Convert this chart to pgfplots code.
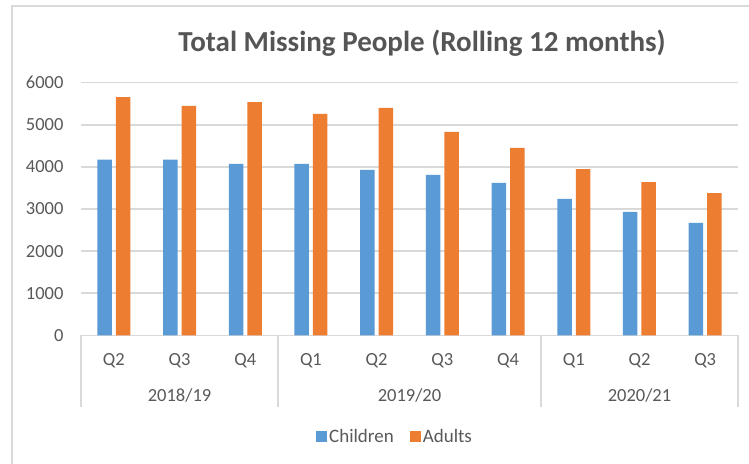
\documentclass[border=0pt]{standalone}
\usepackage{pgfplots}
\pgfplotsset{compat=1.18}
\usepackage{fontspec}
\setmainfont{Carlito}
\definecolor{cblue}{HTML}{5B9BD5}
\definecolor{corange}{HTML}{ED7D31}
\definecolor{gridgray}{HTML}{D9D9D9}
\definecolor{txtgray}{HTML}{595959}
\begin{document}
\begin{tikzpicture}
\useasboundingbox (0,0) rectangle (749bp,464bp);
\fill[white] (0,0) rectangle (749bp,464bp);
\draw[gridgray, line width=1.5bp] (12bp,-2bp) -- (12bp,458bp) -- (751bp,458bp);
\node[font=\fontsize{29bp}{33bp}\selectfont\bfseries, text=txtgray!95!black] at (422bp,421bp) {Total Missing People (Rolling 12 months)};
\begin{axis}[
  at={(81bp,128.7bp)}, anchor=south west,
  scale only axis, width=657bp, height=252.6bp,
  ybar=4bp, bar width=14.5bp,
  xmin=-0.5, xmax=9.5, ymin=0, ymax=6000,
  ytick={0,1000,...,6000},
  xtick={0,...,9},
  xticklabels={Q2,Q3,Q4,Q1,Q2,Q3,Q4,Q1,Q2,Q3},
  axis x line*=bottom, axis y line*=left,
  y axis line style={draw=none},
  x axis line style={draw=gridgray, line width=1.5bp},
  ymajorgrids, grid style={draw=gridgray, line width=1.5bp},
  xtick style={draw=none}, ytick style={draw=none},
  major tick length=0pt,
  /pgf/number format/assume math mode=true,
  /pgf/number format/1000 sep={},
  tick label style={font=\fontsize{18.5bp}{20bp}\selectfont, text=txtgray},
  yticklabel style={anchor=east, xshift=-14bp},
  xticklabel style={anchor=center, yshift=-25bp},
  extra x ticks={-0.5,2.5,6.5,9.5},
  extra x tick labels={},
  extra x tick style={grid=none, tick align=outside, major tick length=72bp,
    xtick style={draw=gridgray, line width=1.5bp}},
  clip=false,
  legend style={at={(0.478,-0.40)}, anchor=center, draw=none, fill=none,
    legend columns=2, font=\fontsize{19bp}{20bp}\selectfont, text=txtgray,
    /tikz/every even column/.append style={column sep=14bp},
    inner sep=0pt},
  legend image code/.code={\fill[#1] (0bp,-5.5bp) rectangle (11bp,5.5bp);},
]
\addplot[fill=cblue, draw=none] coordinates {(0,4170) (1,4170) (2,4070) (3,4070) (4,3930) (5,3810) (6,3620) (7,3240) (8,2930) (9,2670)};
\addplot[fill=corange, draw=none] coordinates {(0,5660) (1,5450) (2,5540) (3,5260) (4,5400) (5,4830) (6,4450) (7,3950) (8,3640) (9,3380)};
\legend{Children,Adults}
\node[font=\fontsize{18.5bp}{20bp}\selectfont, text=txtgray] at (axis cs:1,0) [yshift=-60bp] {2018/19};
\node[font=\fontsize{18.5bp}{20bp}\selectfont, text=txtgray] at (axis cs:4.5,0) [yshift=-60bp] {2019/20};
\node[font=\fontsize{18.5bp}{20bp}\selectfont, text=txtgray] at (axis cs:8,0) [yshift=-60bp] {2020/21};
\end{axis}
\end{tikzpicture}
\end{document}
